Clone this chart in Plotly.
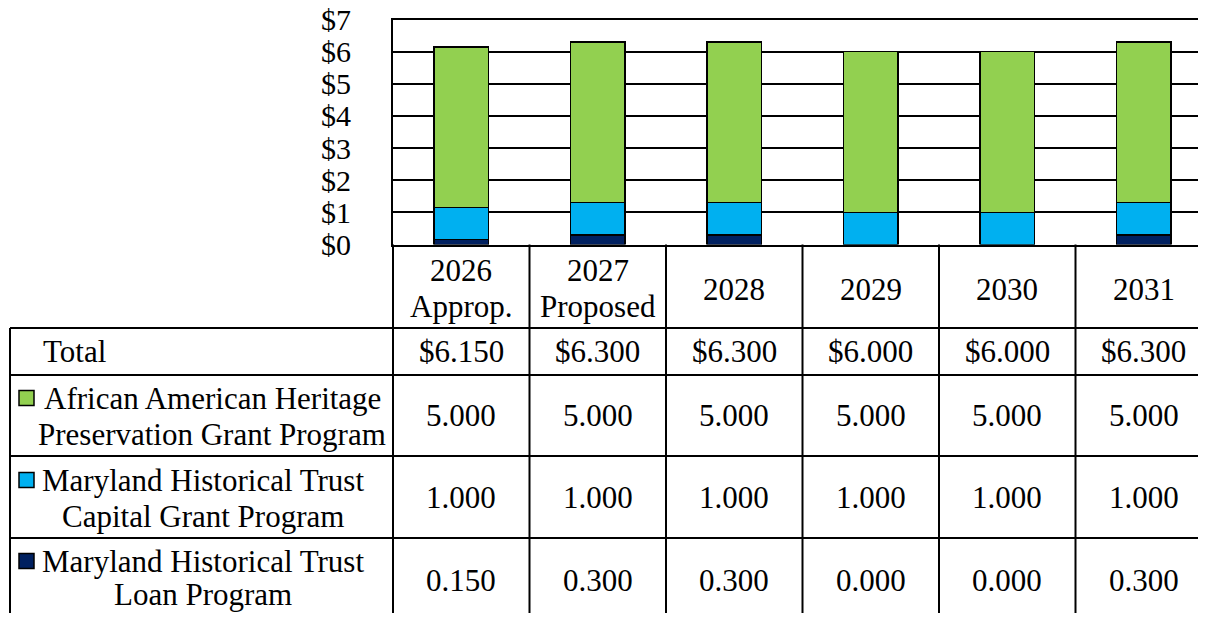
import plotly.graph_objects as go

# ---------------- data ----------------
categories = ["2026 Approp.", "2027 Proposed", "2028", "2029", "2030", "2031"]
header_lines = [["2026", "Approp."], ["2027", "Proposed"], ["2028"], ["2029"], ["2030"], ["2031"]]

series_names = [
    ["African American Heritage", "Preservation Grant Program"],
    ["Maryland Historical Trust", "Capital Grant Program"],
    ["Maryland Historical Trust", "Loan Program"],
]
aahpgp = [5.000, 5.000, 5.000, 5.000, 5.000, 5.000]
mht_capital = [1.000, 1.000, 1.000, 1.000, 1.000, 1.000]
mht_loan = [0.150, 0.300, 0.300, 0.000, 0.000, 0.300]
y_tick_vals = [0, 1, 2, 3, 4, 5, 6, 7]

colors = ["#92D050", "#00B0F0", "#002060"]

# ---------------- layout constants (screen pixels) ----------------
OFF = 8                      # default page body margin
W, H = 1206 - OFF, 621 - 16  # figure size that fits the window without scrollbars
PLOT_L = 393
COL_W = 136.5
PLOT_TOP, PLOT_BOT = 19.5, 244.5
FONT = "Liberation Serif, Times New Roman, serif"
FS = 31


def px(x):
    return (x - OFF) / W


def py(y):
    return 1 - (y - OFF) / H


fig = go.Figure()

# stacked bars (bottom to top)
stack = [(series_names[2], mht_loan, colors[2]),
         (series_names[1], mht_capital, colors[1]),
         (series_names[0], aahpgp, colors[0])]
for name, vals, col in stack:
    fig.add_trace(go.Bar(
        x=categories, y=vals, name=" ".join(name),
        marker=dict(color=col, line=dict(color="black", width=1.5)),
        width=0.4, showlegend=False, hoverinfo="x+y+name",
    ))

shapes = []
annotations = []

# table horizontal lines
for yy in [328, 375, 456, 538]:
    shapes.append(dict(type="line", xref="paper", yref="paper",
                       x0=px(10), x1=px(1220), y0=py(yy), y1=py(yy),
                       line=dict(color="black", width=2)))
# table left border
shapes.append(dict(type="line", xref="paper", yref="paper",
                   x0=px(10), x1=px(10), y0=py(328), y1=py(640),
                   line=dict(color="black", width=2)))
# column boundaries
for k in range(len(categories)):
    xx = PLOT_L + COL_W * k
    shapes.append(dict(type="line", xref="paper", yref="paper",
                       x0=px(xx), x1=px(xx), y0=py(PLOT_BOT), y1=py(640),
                       line=dict(color="black", width=2)))

txt_font = dict(family=FONT, size=FS, color="black")

# header labels
for i, lines in enumerate(header_lines):
    ys = [270, 306] if len(lines) == 2 else [289]
    for t, yy in zip(lines, ys):
        annotations.append(dict(x=i, xref="x", y=py(yy), yref="paper",
                                text=t, showarrow=False, xanchor="center", yanchor="middle",
                                font=txt_font))

# Total row
totals = [a + b + c for a, b, c in zip(aahpgp, mht_capital, mht_loan)]
annotations.append(dict(x=px(41), xref="paper", y=py(351), yref="paper", text="Total",
                        showarrow=False, xanchor="left", yanchor="middle", font=txt_font))
for i, t in enumerate(totals):
    annotations.append(dict(x=i, xref="x", y=py(351), yref="paper", text=f"${t:.3f}",
                            showarrow=False, xanchor="center", yanchor="middle", font=txt_font))

# series rows
row_specs = [
    (series_names[0], aahpgp, colors[0], (398, 434), 415, 212, 398),
    (series_names[1], mht_capital, colors[1], (480, 516), 497, 203, 480),
    (series_names[2], mht_loan, colors[2], (561, 594), 580, 203, 561),
]
for name, vals, col, line_ys, yc, xc, sw_y in row_specs:
    for t, yy in zip(name, line_ys):
        annotations.append(dict(x=px(xc), xref="paper", y=py(yy), yref="paper", text=t,
                                showarrow=False, xanchor="center", yanchor="middle",
                                font=txt_font))
    shapes.append(dict(type="rect", xref="paper", yref="paper",
                       x0=px(19), x1=px(34), y0=py(sw_y - 7.5), y1=py(sw_y + 7.5),
                       fillcolor=col, line=dict(color="black", width=1.5)))
    for i, v in enumerate(vals):
        annotations.append(dict(x=i, xref="x", y=py(yc), yref="paper", text=f"{v:.3f}",
                                showarrow=False, xanchor="center", yanchor="middle",
                                font=txt_font))

x_right = -0.5 + (1206 - PLOT_L) / COL_W

fig.update_layout(
    width=W, height=H, autosize=False,
    margin=dict(l=0, r=0, t=0, b=0, pad=0, autoexpand=False),
    paper_bgcolor="white", plot_bgcolor="white",
    barmode="stack", bargap=0.6,
    showlegend=False,
    shapes=shapes, annotations=annotations,
    font=dict(family=FONT, size=FS, color="black"),
    xaxis=dict(domain=[px(PLOT_L), 1], range=[-0.5, x_right], type="category",
               showticklabels=False, ticks="", showgrid=False, automargin=False,
               showline=True, mirror=True, linecolor="black", linewidth=2,
               fixedrange=True),
    yaxis=dict(domain=[py(PLOT_BOT), py(PLOT_TOP)], range=[0, 7],
               tickvals=y_tick_vals, ticktext=[f"${v}" for v in y_tick_vals],
               showgrid=True, gridcolor="black", gridwidth=2, zeroline=False,
               showline=True, linecolor="black", linewidth=2, ticks="",
               ticklabelstandoff=34, automargin=False, ticklabeloverflow="allow",
               tickfont=dict(family=FONT, size=30, color="black"),
               fixedrange=True),
)

fig.write_html("out.html")
